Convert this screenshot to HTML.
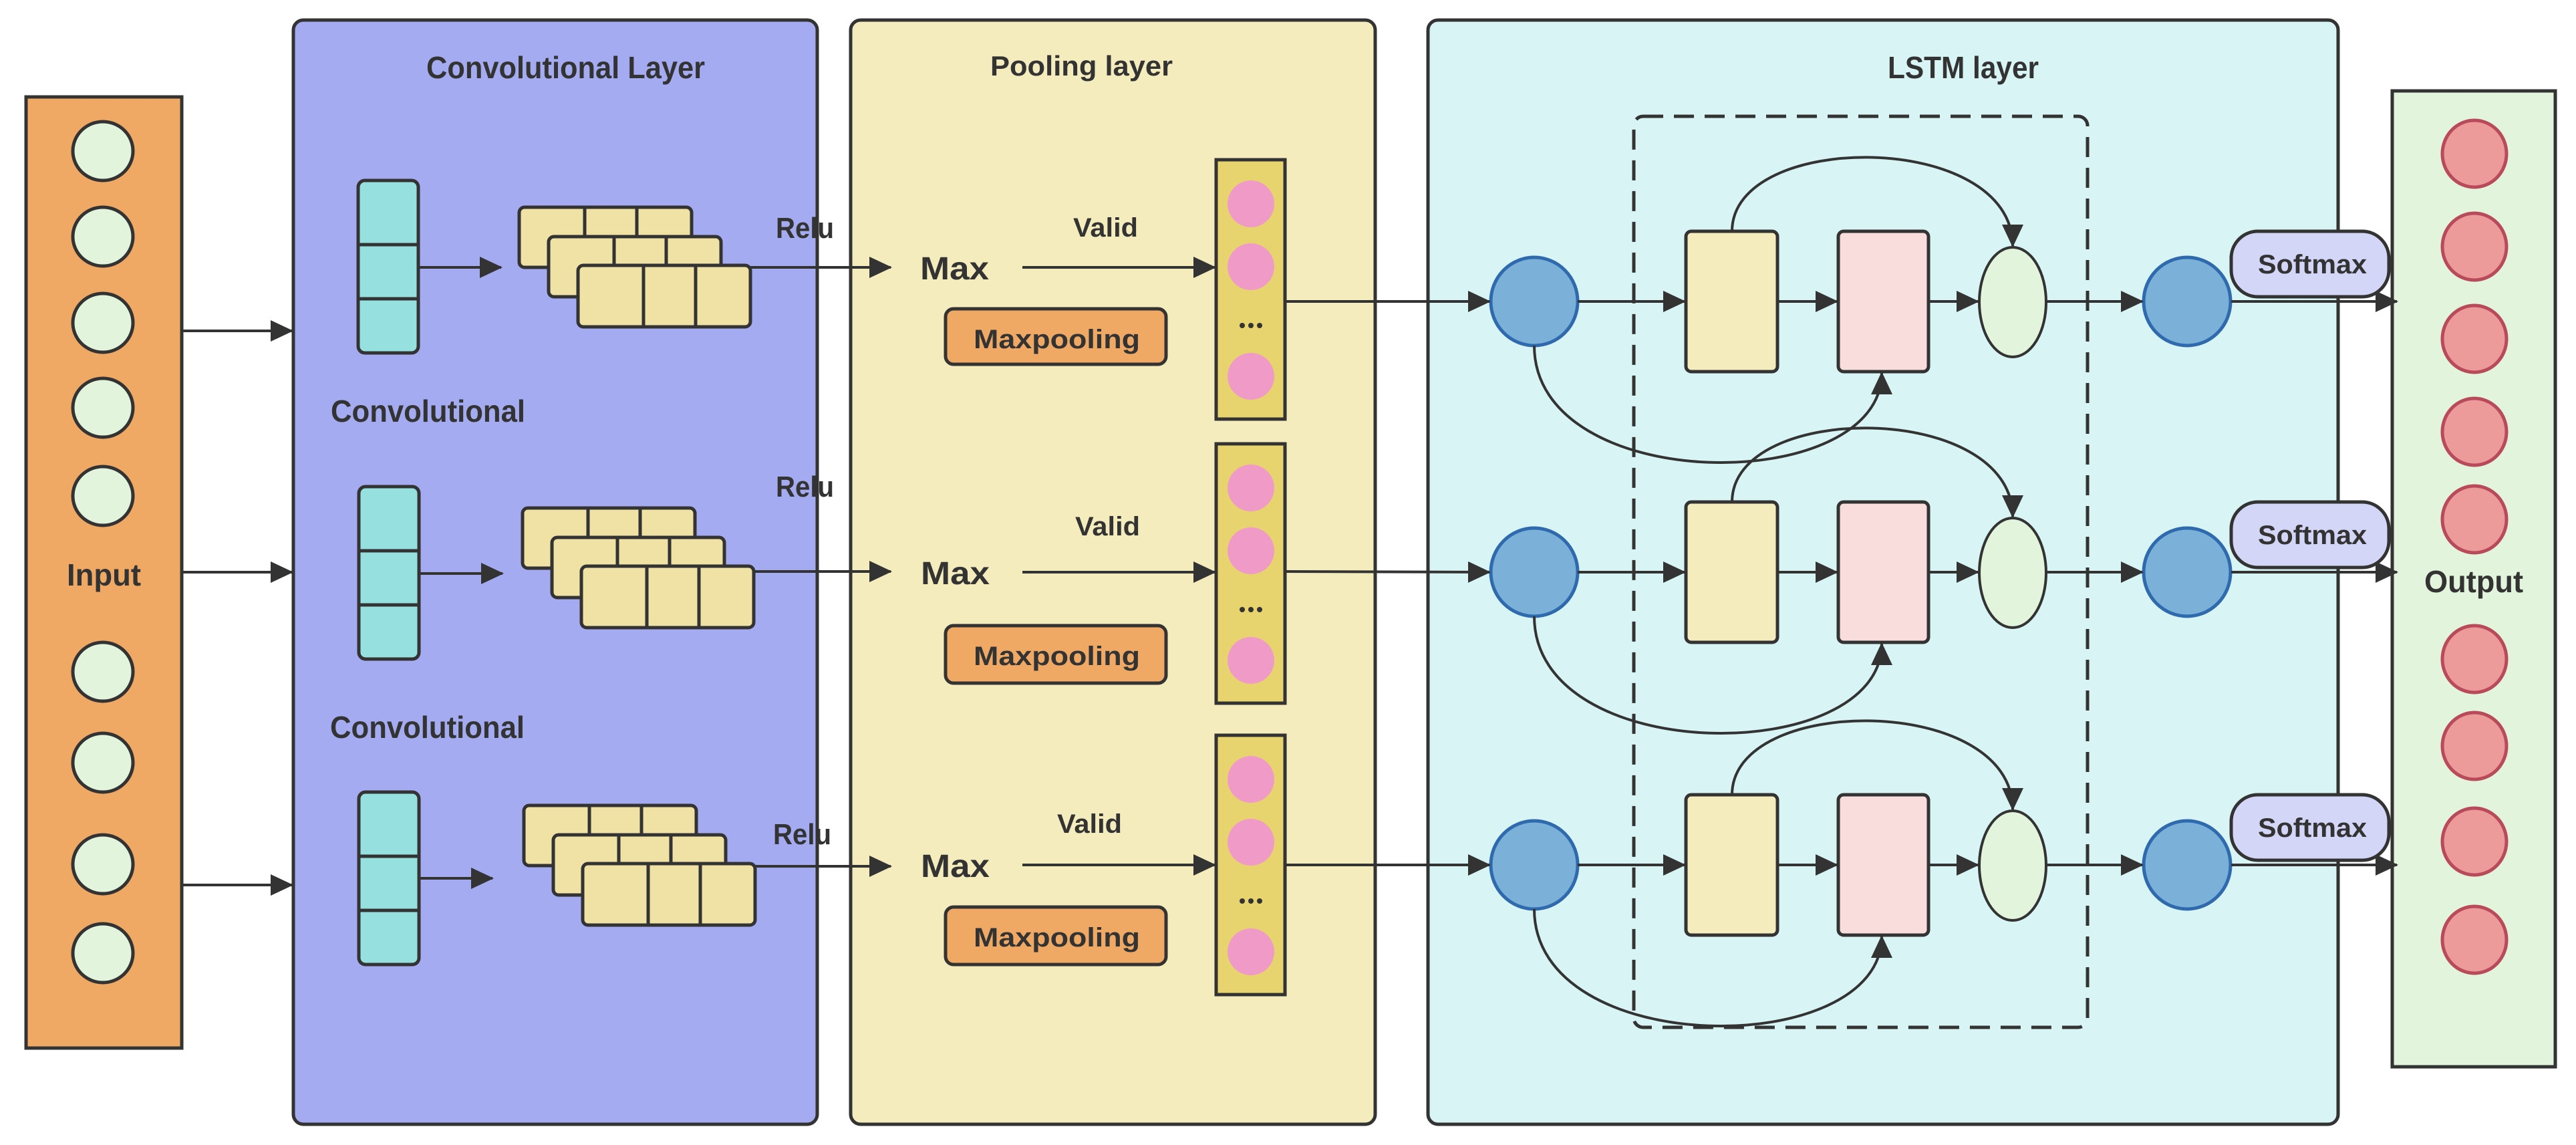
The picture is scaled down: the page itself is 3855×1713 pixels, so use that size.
<!DOCTYPE html>
<html><head><meta charset="utf-8"><style>
html,body{margin:0;padding:0;background:#fff}
svg{display:block}
text{font-family:"Liberation Sans","DejaVu Sans",sans-serif;font-weight:bold;fill:#333}
</style></head><body>
<svg width="3855" height="1713" viewBox="0 0 3855 1713" xmlns="http://www.w3.org/2000/svg">
<defs>
<marker id="ah" markerUnits="userSpaceOnUse" markerWidth="34" markerHeight="34" refX="32" refY="16" orient="auto">
<path d="M0,0 L34,16 L0,32 Z" fill="#333"/>
</marker>
<g id="stack">
 <g stroke="#333" stroke-width="5" fill="#f0e2a4">
  <rect x="0" y="0" width="258" height="90" rx="8"/>
  <line x1="98" y1="0" x2="98" y2="90"/><line x1="176" y1="0" x2="176" y2="90"/>
  <rect x="44" y="44" width="258" height="90" rx="8"/>
  <line x1="142" y1="44" x2="142" y2="134"/><line x1="220" y1="44" x2="220" y2="134"/>
  <rect x="88" y="87" width="258" height="92" rx="8"/>
  <line x1="186" y1="87" x2="186" y2="179"/><line x1="264" y1="87" x2="264" y2="179"/>
 </g>
</g>
<g id="cyan">
 <rect x="0" y="0" width="90" height="258" rx="10" fill="#96e0e0" stroke="#333" stroke-width="5"/>
 <line x1="0" y1="96" x2="90" y2="96" stroke="#333" stroke-width="5"/>
 <line x1="0" y1="177" x2="90" y2="177" stroke="#333" stroke-width="5"/>
</g>
<g id="pcol">
 <rect x="0" y="0" width="103" height="388" fill="#e8d46e" stroke="#333" stroke-width="5"/>
 <circle cx="52" cy="66" r="35" fill="#f09ac8"/>
 <circle cx="52" cy="160" r="35" fill="#f09ac8"/>
 <circle cx="39" cy="248" r="4" fill="#333"/><circle cx="52" cy="248" r="4" fill="#333"/><circle cx="65" cy="248" r="4" fill="#333"/>
 <circle cx="52" cy="324" r="35" fill="#f09ac8"/>
</g>
<g id="lrow">
 <rect x="2523" y="-105" width="137" height="210" rx="8" fill="#f5ecbe" stroke="#333" stroke-width="5"/>
 <rect x="2751" y="-105" width="135" height="210" rx="8" fill="#f9dcdc" stroke="#333" stroke-width="5"/>
 <ellipse cx="3012" cy="1" rx="50" ry="82" fill="#e3f4dc" stroke="#333" stroke-width="4"/>
 <ellipse cx="2296" cy="0" rx="65" ry="66" fill="#7bb0d8" stroke="#2e6aad" stroke-width="5"/>
 <ellipse cx="3273" cy="0" rx="65" ry="66" fill="#7bb0d8" stroke="#2e6aad" stroke-width="5"/>
 <g stroke="#333" stroke-width="4" fill="none">
  <line x1="2361" y1="0" x2="2521" y2="0" marker-end="url(#ah)"/>
  <line x1="2660" y1="0" x2="2749" y2="0" marker-end="url(#ah)"/>
  <line x1="2886" y1="0" x2="2960" y2="0" marker-end="url(#ah)"/>
  <line x1="3063" y1="0" x2="3206" y2="0" marker-end="url(#ah)"/>
  <line x1="3339" y1="0" x2="3587" y2="0" marker-end="url(#ah)"/>
  <path d="M2592 -105 C2592 -256 3012 -256 3012 -83" marker-end="url(#ah)"/>
  <path d="M2296 66 C2296 292 2816 292 2816 107" marker-end="url(#ah)"/>
 </g>
 <rect x="3339" y="-105" width="236" height="98" rx="40" fill="#d3d6f7" stroke="#333" stroke-width="5"/>
 <text x="3379" y="-42" font-size="40" textLength="163" lengthAdjust="spacingAndGlyphs">Softmax</text>
</g>
</defs>

<!-- Input panel -->
<rect x="39" y="145" width="233" height="1423" fill="#f0a965" stroke="#333" stroke-width="5"/>
<g fill="#e3f4dc" stroke="#333" stroke-width="5">
<ellipse cx="154" cy="226" rx="45" ry="44"/><ellipse cx="154" cy="354" rx="45" ry="44"/>
<ellipse cx="154" cy="483" rx="45" ry="44"/><ellipse cx="154" cy="610" rx="45" ry="44"/>
<ellipse cx="154" cy="742" rx="45" ry="44"/><ellipse cx="154" cy="1005" rx="45" ry="44"/>
<ellipse cx="154" cy="1141" rx="45" ry="44"/><ellipse cx="154" cy="1293" rx="45" ry="44"/>
<ellipse cx="154" cy="1426" rx="45" ry="44"/>
</g>
<text x="100" y="876" font-size="46" textLength="111" lengthAdjust="spacingAndGlyphs">Input</text>

<!-- Conv panel -->
<rect x="439" y="30" width="784" height="1652" rx="15" fill="#a4abf0" stroke="#333" stroke-width="5"/>
<text x="638" y="117" font-size="46" textLength="417" lengthAdjust="spacingAndGlyphs">Convolutional Layer</text>
<text x="495" y="631" font-size="46" textLength="291" lengthAdjust="spacingAndGlyphs">Convolutional</text>
<text x="494" y="1104" font-size="46" textLength="291" lengthAdjust="spacingAndGlyphs">Convolutional</text>
<use href="#cyan" x="536" y="270"/><use href="#cyan" x="537" y="728"/><use href="#cyan" x="537" y="1185"/>
<use href="#stack" x="777" y="310"/><use href="#stack" x="782" y="760"/><use href="#stack" x="784" y="1205"/>
<text x="1161" y="356" font-size="44" textLength="87" lengthAdjust="spacingAndGlyphs">Relu</text>
<text x="1161" y="743" font-size="44" textLength="87" lengthAdjust="spacingAndGlyphs">Relu</text>
<text x="1157" y="1263" font-size="44" textLength="87" lengthAdjust="spacingAndGlyphs">Relu</text>

<!-- Pool panel -->
<rect x="1273" y="30" width="785" height="1652" rx="15" fill="#f5ecbe" stroke="#333" stroke-width="5"/>
<text x="1482" y="113" font-size="42" textLength="273" lengthAdjust="spacingAndGlyphs" font-family="DejaVu Sans">Pooling layer</text>
<use href="#pcol" x="1820" y="239"/><use href="#pcol" x="1820" y="664"/><use href="#pcol" x="1820" y="1100"/>
<g font-family="DejaVu Sans">
<text x="1377" y="418" font-size="48" textLength="103" lengthAdjust="spacingAndGlyphs">Max</text>
<text x="1378" y="874" font-size="48" textLength="103" lengthAdjust="spacingAndGlyphs">Max</text>
<text x="1378" y="1312" font-size="48" textLength="103" lengthAdjust="spacingAndGlyphs">Max</text>
<text x="1606" y="354" font-size="40" textLength="97" lengthAdjust="spacingAndGlyphs">Valid</text>
<text x="1609" y="801" font-size="40" textLength="97" lengthAdjust="spacingAndGlyphs">Valid</text>
<text x="1582" y="1246" font-size="40" textLength="97" lengthAdjust="spacingAndGlyphs">Valid</text>
</g>
<g fill="#f0a965" stroke="#333" stroke-width="5">
<rect x="1415" y="462" width="330" height="83" rx="12"/>
<rect x="1415" y="936" width="330" height="86" rx="12"/>
<rect x="1415" y="1357" width="330" height="86" rx="12"/>
</g>
<g font-family="DejaVu Sans">
<text x="1457" y="521" font-size="40" textLength="249" lengthAdjust="spacingAndGlyphs">Maxpooling</text>
<text x="1457" y="995" font-size="40" textLength="249" lengthAdjust="spacingAndGlyphs">Maxpooling</text>
<text x="1457" y="1416" font-size="40" textLength="249" lengthAdjust="spacingAndGlyphs">Maxpooling</text>
</g>

<!-- LSTM panel -->
<rect x="2137" y="30" width="1362" height="1652" rx="15" fill="#d9f4f4" stroke="#333" stroke-width="5"/>
<text x="2825" y="117" font-size="46" textLength="226" lengthAdjust="spacingAndGlyphs">LSTM layer</text>
<rect x="2445" y="174" width="679" height="1363" rx="14" fill="none" stroke="#333" stroke-width="5" stroke-dasharray="30 16"/>

<!-- Output panel -->
<rect x="3580" y="136" width="244" height="1460" fill="#e3f4dc" stroke="#333" stroke-width="5"/>
<g fill="#ec9a9a" stroke="#b84a5a" stroke-width="5">
<ellipse cx="3703" cy="230" rx="48" ry="50"/><ellipse cx="3703" cy="369" rx="48" ry="50"/>
<ellipse cx="3703" cy="507" rx="48" ry="50"/><ellipse cx="3703" cy="646" rx="48" ry="50"/>
<ellipse cx="3703" cy="777" rx="48" ry="50"/><ellipse cx="3703" cy="986" rx="48" ry="50"/>
<ellipse cx="3703" cy="1116" rx="48" ry="50"/><ellipse cx="3703" cy="1259" rx="48" ry="50"/>
<ellipse cx="3703" cy="1406" rx="48" ry="50"/>
</g>
<text x="3628" y="886" font-size="46" textLength="148" lengthAdjust="spacingAndGlyphs">Output</text>

<use href="#lrow" x="0" y="451"/>
<use href="#lrow" x="0" y="856"/>
<use href="#lrow" x="0" y="1294"/>

<!-- connectors -->
<g stroke="#333" stroke-width="4" fill="none">
<line x1="272" y1="495" x2="437" y2="495" marker-end="url(#ah)"/>
<line x1="272" y1="856" x2="437" y2="856" marker-end="url(#ah)"/>
<line x1="272" y1="1324" x2="437" y2="1324" marker-end="url(#ah)"/>
<line x1="626" y1="400" x2="750" y2="400" marker-end="url(#ah)"/>
<line x1="627" y1="858" x2="752" y2="858" marker-end="url(#ah)"/>
<line x1="627" y1="1314" x2="737" y2="1314" marker-end="url(#ah)"/>
<line x1="1123" y1="400" x2="1333" y2="400" marker-end="url(#ah)"/>
<line x1="1128" y1="855" x2="1333" y2="855" marker-end="url(#ah)"/>
<line x1="1130" y1="1296" x2="1333" y2="1296" marker-end="url(#ah)"/>
<line x1="1530" y1="400" x2="1818" y2="400" marker-end="url(#ah)"/>
<line x1="1530" y1="856" x2="1818" y2="856" marker-end="url(#ah)"/>
<line x1="1530" y1="1294" x2="1818" y2="1294" marker-end="url(#ah)"/>
<line x1="1923" y1="451" x2="2229" y2="451" marker-end="url(#ah)"/>
<line x1="1923" y1="855" x2="2229" y2="856" marker-end="url(#ah)"/>
<line x1="1923" y1="1294" x2="2229" y2="1294" marker-end="url(#ah)"/>
</g>
</svg>
</body></html>
